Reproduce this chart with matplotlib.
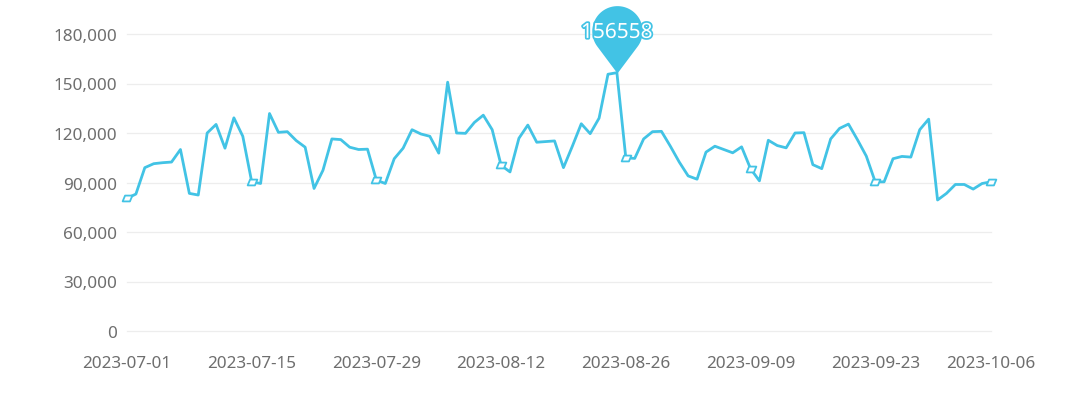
import numpy as np
import pandas as pd
import matplotlib
matplotlib.use("Agg")
import matplotlib.pyplot as plt
import matplotlib.patheffects as pe
from matplotlib.path import Path

plt.rcParams['font.family'] = ['Noto Sans', 'DejaVu Sans']

# daily values, 2023-07-01 .. 2023-10-06
dates = pd.date_range("2023-07-01", "2023-10-06", freq="D")
values = [
    80400, 83000, 99000, 101400, 102000, 102400, 110000, 83400, 82400, 120000,
    125200, 110800, 129200, 118000, 90400, 89400, 131800, 120400, 120800, 115400,
    111400, 86400, 97400, 116400, 116000, 111400, 110000, 110200, 91400, 89400,
    104400, 110800, 122000, 119400, 118000, 107800, 150800, 120000, 119800, 126400,
    130800, 122000, 100400, 96400, 116800, 124800, 114400, 114800, 115200, 99000,
    112000, 125600, 119600, 129000, 155600, 156558, 105000, 104600, 116400, 120800,
    121000, 112000, 102400, 94000, 92000, 108400, 112000, 110000, 108000, 111600,
    98400, 91000, 115600, 112400, 111000, 120000, 120200, 100800, 98400, 116400,
    122800, 125400, 116000, 106000, 90400, 90400, 104400, 105800, 105400, 122000,
    128400, 79400, 83400, 88800, 88800, 86000, 89400, 90400,
]
label_idx = [0, 14, 28, 42, 56, 70, 84, 97]
yticks = [0, 30000, 60000, 90000, 120000, 150000, 180000]

line_color = '#42C3E5'
text_color = '#6E6E6E'

fig = plt.figure(figsize=(10.8, 4.14), dpi=100)
ax = fig.add_axes([127/1080, 1-332/414, 864/1080, 297/414])

ax.plot(dates, values, color=line_color, lw=2.0, solid_joinstyle='round', zorder=3)

# skewed box markers at the labelled days
para = Path([(-0.5, -0.3), (0.25, -0.3), (0.5, 0.3), (-0.25, 0.3), (-0.5, -0.3)],
            [Path.MOVETO, Path.LINETO, Path.LINETO, Path.LINETO, Path.CLOSEPOLY])
ax.plot(dates[label_idx], [values[i] for i in label_idx], ls='none', marker=para,
        ms=7, mfc='white', mec=line_color, mew=1.3, zorder=4, clip_on=False)

# pin marking the maximum
imax = int(np.argmax(values))
h = 1.67
a0 = np.arccos(1/h)
th = np.linspace(-np.pi/2 + a0, 3*np.pi/2 - a0, 60)
verts = [(0, 0)] + [(np.cos(t), h + np.sin(t)) for t in th] + [(0, 0)]
codes = [Path.MOVETO] + [Path.LINETO]*len(th) + [Path.CLOSEPOLY]
pin = Path(verts, codes)
ax.plot([dates[imax]], [values[imax]], ls='none', marker=pin, ms=97,
        mfc=line_color, mec='none', zorder=5, clip_on=False)
ax.annotate(str(values[imax]), (dates[imax], values[imax]), xytext=(0, 29),
            textcoords='offset points', ha='center', va='center', fontsize=15,
            color='white', zorder=6, annotation_clip=False,
            path_effects=[pe.withStroke(linewidth=2.5, foreground=line_color)])

ax.set_xlim(dates[0], dates[-1])
ax.set_ylim(0, 180000)
ax.set_yticks(yticks)
ax.set_yticklabels([f"{v:,}" for v in yticks])
ax.set_xticks(dates[label_idx])
ax.set_xticklabels([d.strftime("%Y-%m-%d") for d in dates[label_idx]])
ax.tick_params(axis='y', length=0, pad=7, labelsize=12.3, labelcolor=text_color)
ax.tick_params(axis='x', length=0, pad=17, labelsize=12.3, labelcolor=text_color)
ax.grid(axis='y', color='#EDEDED', lw=0.9)
for gl in ax.get_ygridlines():
    gl.set_clip_on(False)
ax.set_axisbelow(True)
for s in ax.spines.values():
    s.set_visible(False)

fig.savefig("out.png", dpi=100)
